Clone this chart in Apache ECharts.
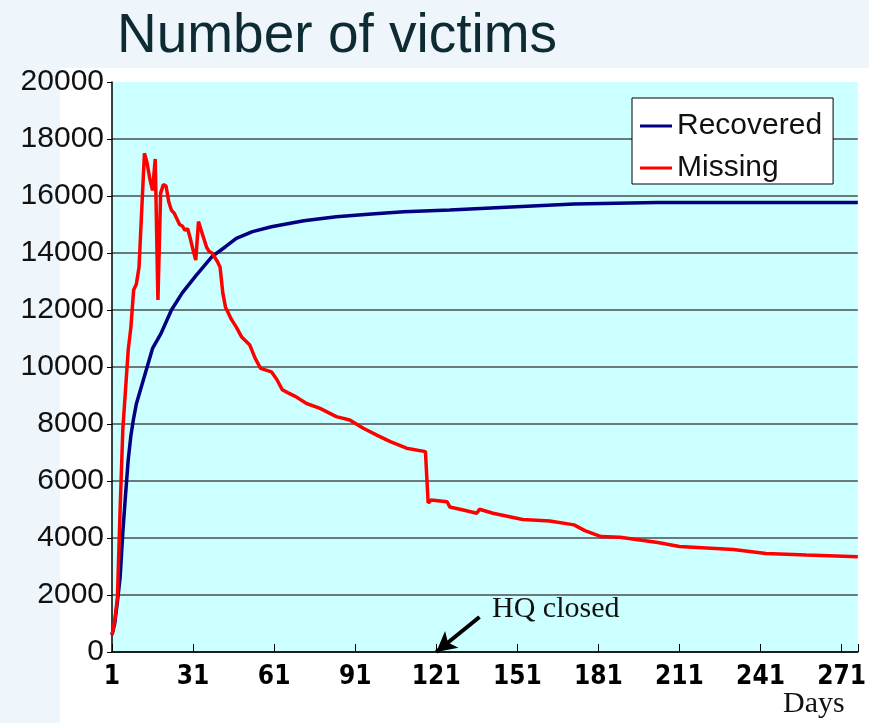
<!DOCTYPE html>
<html>
<head>
<meta charset="utf-8">
<title>Number of victims</title>
<script src="https://cdn.jsdelivr.net/npm/echarts@6/dist/echarts.min.js"></script>
<style>
  html, body { margin: 0; padding: 0; background: #eef6fc; }
  #main { width: 869px; height: 723px; }
</style>
</head>
<body>
<div id="main"></div>
<script>
// days since the disaster and counts
var missingDays = [1, 2, 3, 4, 5, 6, 7, 8, 9, 10, 11, 12, 13, 14, 15, 16, 17, 18, 19, 20,
    21, 22, 23, 24, 25, 26, 27, 28, 29, 30, 31, 32, 33, 34, 35, 36, 37, 38, 39, 40,
    41, 42, 43, 44, 45, 46, 47, 49, 52, 54, 56, 60, 62, 64, 66, 69, 73, 78, 84, 89,
    94, 99, 104, 110, 117, 118, 119, 125, 126, 131, 136, 137, 142, 153, 163, 172, 176, 182, 189, 203,
    211, 231, 243, 258, 277];
var missingValues = [600, 1100, 1900, 5000, 7800, 9200, 10600, 11400, 12700, 12900, 13500, 15500, 17500, 17150, 16600, 16200, 17300, 12350, 16100, 16400,
    16350, 15800, 15500, 15400, 15200, 15000, 14950, 14800, 14850, 14500, 14100, 13750, 15100, 14800, 14500, 14200, 14050, 14000, 13850, 13700,
    13500, 12600, 12100, 11900, 11700, 11550, 11400, 11050, 10770, 10300, 9950, 9830, 9560, 9200, 9100, 8960, 8720, 8550, 8260, 8140,
    7850, 7610, 7380, 7150, 7030, 5230, 5330, 5270, 5090, 4980, 4870, 5010, 4870, 4650, 4600, 4460, 4260, 4050, 4030, 3840,
    3700, 3600, 3460, 3400, 3340];

var recoveredDays = [1, 2, 3, 4, 5, 6, 7, 8, 9, 10, 12, 14, 16, 19, 23, 27, 32, 38, 43, 47,
    53, 60, 72, 84, 97, 109, 126, 145, 172, 203, 277];
var recoveredValues = [600, 1000, 1770, 2600, 4200, 5500, 6740, 7600, 8200, 8700, 9350, 10000, 10650, 11150, 12000, 12600, 13200, 13870, 14220, 14510,
    14750, 14920, 15130, 15270, 15370, 15450, 15510, 15600, 15720, 15770, 15770];

// tick labels
var dayTicks = [1, 31, 61, 91, 121, 151, 181, 211, 241, 271];
var countTicks = [0, 2000, 4000, 6000, 8000, 10000, 12000, 14000, 16000, 18000, 20000];

// arrow to the day the HQ closed: [day, count]
var hqArrowFrom = [137, 1230];
var hqArrowTo = [121, 0];

var chart = echarts.init(document.getElementById('main'));

// day 1 sits on the y axis, so x is plotted as days after day 1
function toPoints(days, values) {
    var pts = [];
    for (var i = 0; i < days.length; i++) {
        pts.push([days[i] - 1, values[i]]);
    }
    return pts;
}

// no split line on the top of the plot
var splitColors = [];
for (var i = 0; i < countTicks.length; i++) {
    splitColors.push(i == countTicks.length - 1 ? 'transparent' : '#4d4d4d');
}

var option = {
    animation: false,
    title: {
        text: 'Number of victims',
        left: 112,
        top: 4,
        textStyle: {
            fontFamily: 'Liberation Sans, Arial, sans-serif',
            fontSize: 55,
            fontWeight: 'normal',
            color: '#0e2a33'
        }
    },
    graphic: [
        {
            type: 'rect',
            z: -10,
            silent: true,
            shape: { x: 60, y: 68, width: 809, height: 655 },
            style: { fill: '#ffffff' }
        },
        {
            type: 'text',
            left: 492,
            top: 594,
            style: {
                text: 'HQ closed',
                font: '30px "Liberation Serif", "Times New Roman", serif',
                fill: '#111'
            }
        },
        {
            type: 'text',
            left: 783,
            top: 689,
            style: {
                text: 'Days',
                font: '30px "Liberation Serif", "Times New Roman", serif',
                fill: '#111'
            }
        }
    ],
    legend: {
        orient: 'vertical',
        left: 632,
        top: 98,
        padding: [13, 11, 1, 8],
        itemGap: 12,
        itemWidth: 32,
        itemHeight: 3,
        icon: 'rect',
        backgroundColor: '#ffffff',
        borderColor: '#000',
        borderWidth: 1,
        borderRadius: 0,
        textStyle: {
            fontFamily: 'Liberation Sans, Arial, sans-serif',
            fontSize: 30,
            color: '#111'
        },
        data: ['Recovered', 'Missing']
    },
    grid: {
        left: 112,
        right: 11,
        top: 82,
        bottom: 71,
        show: true,
        backgroundColor: '#ccffff',
        borderWidth: 0
    },
    xAxis: {
        type: 'value',
        min: 0,
        max: 276,
        interval: 30,
        axisLine: { lineStyle: { color: '#000', width: 1.5 } },
        axisTick: { inside: true, length: 8, lineStyle: { color: '#000', width: 1 } },
        splitLine: { show: false },
        axisLabel: {
            margin: 12,
            fontFamily: '"Liberation Sans Narrow", "DejaVu Sans Condensed", sans-serif',
            fontWeight: 'bold',
            fontSize: 26,
            color: '#000',
            formatter: function (v) {
                return dayTicks.indexOf(v + 1) >= 0 ? String(v + 1) : '';
            }
        }
    },
    yAxis: {
        type: 'value',
        min: countTicks[0],
        max: countTicks[countTicks.length - 1],
        interval: 2000,
        axisLine: { show: true, lineStyle: { color: '#000', width: 1.5 } },
        axisTick: { show: true, length: 5, lineStyle: { color: '#000' } },
        splitLine: { lineStyle: { color: splitColors, width: 1.5 } },
        axisLabel: {
            margin: 8,
            fontFamily: 'Liberation Sans, Arial, sans-serif',
            fontSize: 30,
            color: '#111',
            formatter: function (v) {
                return String(v);
            }
        }
    },
    series: [
        {
            name: 'Recovered',
            type: 'line',
            symbol: 'none',
            data: toPoints(recoveredDays, recoveredValues),
            lineStyle: { color: '#000080', width: 3.5 },
            itemStyle: { color: '#000080' },
            z: 3
        },
        {
            name: 'Missing',
            type: 'line',
            symbol: 'none',
            data: toPoints(missingDays, missingValues),
            lineStyle: { color: '#ff0000', width: 3.5 },
            itemStyle: { color: '#ff0000' },
            z: 4,
            markLine: {
                silent: true,
                symbol: ['none', 'arrow'],
                symbolSize: [16, 20],
                label: { show: false },
                lineStyle: { color: '#000', width: 4, type: 'solid' },
                data: [[
                    { coord: [hqArrowFrom[0] - 1, hqArrowFrom[1]] },
                    { coord: [hqArrowTo[0] - 1, hqArrowTo[1]] }
                ]]
            }
        }
    ]
};

chart.setOption(option);
</script>
</body>
</html>
